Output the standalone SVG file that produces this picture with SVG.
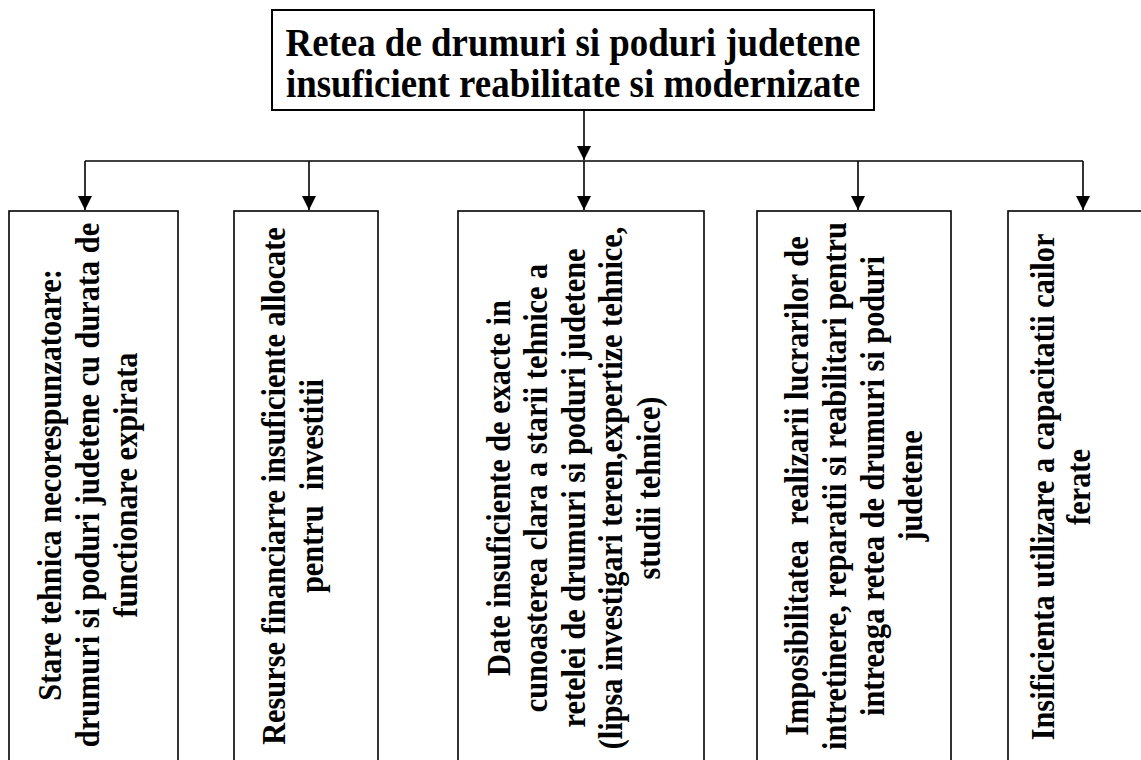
<svg xmlns="http://www.w3.org/2000/svg" width="1141" height="760" viewBox="0 0 1141 760">
<style>
.box{fill:#fff;stroke:#000;stroke-width:1.6}
.title{fill:#fff;stroke:#000;stroke-width:2}
.t{font-family:"Liberation Serif","Times New Roman",serif;font-weight:bold;fill:#000;text-anchor:middle;white-space:pre}
.v{font-size:33px}
.ln{stroke:#000;stroke-width:1.6;fill:none}
</style>
<defs>
<marker id="ah" markerWidth="14" markerHeight="14" refX="14" refY="7" orient="auto" markerUnits="userSpaceOnUse">
<path d="M0,0 L14,7 L0,14 Z" fill="#000"/>
</marker>
</defs>
<rect width="1141" height="760" fill="#fff"/>
<g id="connectors">
<line class="ln" x1="584" y1="110" x2="584" y2="160" marker-end="url(#ah)"/>
<line class="ln" x1="85" y1="161" x2="1083" y2="161"/>
<line class="ln" x1="85" y1="161" x2="85" y2="210" marker-end="url(#ah)"/>
<line class="ln" x1="309" y1="161" x2="309" y2="210" marker-end="url(#ah)"/>
<line class="ln" x1="584" y1="161" x2="584" y2="210" marker-end="url(#ah)"/>
<line class="ln" x1="858" y1="161" x2="858" y2="210" marker-end="url(#ah)"/>
<line class="ln" x1="1083" y1="161" x2="1083" y2="210" marker-end="url(#ah)"/>
</g>
<g id="root">
<rect class="title" x="272" y="10" width="602" height="100"/>
<text class="t" font-size="41" transform="translate(573,0) scale(0.9,1)"><tspan x="0" y="56">Retea de drumuri si poduri judetene</tspan><tspan x="0" y="97">insuficient reabilitate si modernizate</tspan></text>
</g>
<g id="n1">
<rect class="box" x="9" y="211" width="169" height="560"/>
<text class="t v" transform="translate(0,485) rotate(-90) scale(0.92,1)"><tspan x="0" y="61">Stare tehnica necorespunzatoare:</tspan><tspan x="0" y="99">drumuri si poduri judetene cu durata de</tspan><tspan x="0" y="137">functionare expirata</tspan></text>
</g>
<g id="n2">
<rect class="box" x="234" y="211" width="144" height="560"/>
<text class="t v" transform="translate(0,486) rotate(-90) scale(0.92,1)"><tspan x="0" y="285">Resurse financiarre insuficiente allocate</tspan><tspan x="0" y="323">pentru  investitii</tspan></text>
</g>
<g id="n3">
<rect class="box" x="458" y="211" width="246" height="560"/>
<text class="t v" transform="translate(0,488) rotate(-90) scale(0.92,1)"><tspan x="0" y="510">Date insuficiente de exacte in</tspan><tspan x="0" y="547">cunoasterea clara a starii tehnice a</tspan><tspan x="0" y="585">retelei de drumuri si poduri judetene</tspan><tspan x="0" y="622">(lipsa investigari teren,expertize tehnice,</tspan><tspan x="0" y="660">studii tehnice)</tspan></text>
</g>
<g id="n4">
<rect class="box" x="757" y="211" width="194" height="560"/>
<text class="t v" transform="translate(0,486) rotate(-90) scale(0.92,1)"><tspan x="0" y="808">Imposibilitatea  realizarii lucrarilor de</tspan><tspan x="0" y="846">intretinere, reparatii si reabilitari pentru</tspan><tspan x="0" y="884">intreaga retea de drumuri si poduri</tspan><tspan x="0" y="922">judetene</tspan></text>
</g>
<g id="n5">
<rect class="box" x="1008" y="211" width="160" height="560"/>
<text class="t v" transform="translate(0,487) rotate(-90) scale(0.92,1)"><tspan x="0" y="1054">Insificienta utilizare a capacitatii cailor</tspan><tspan x="0" y="1090">ferate</tspan></text>
</g>
</svg>
